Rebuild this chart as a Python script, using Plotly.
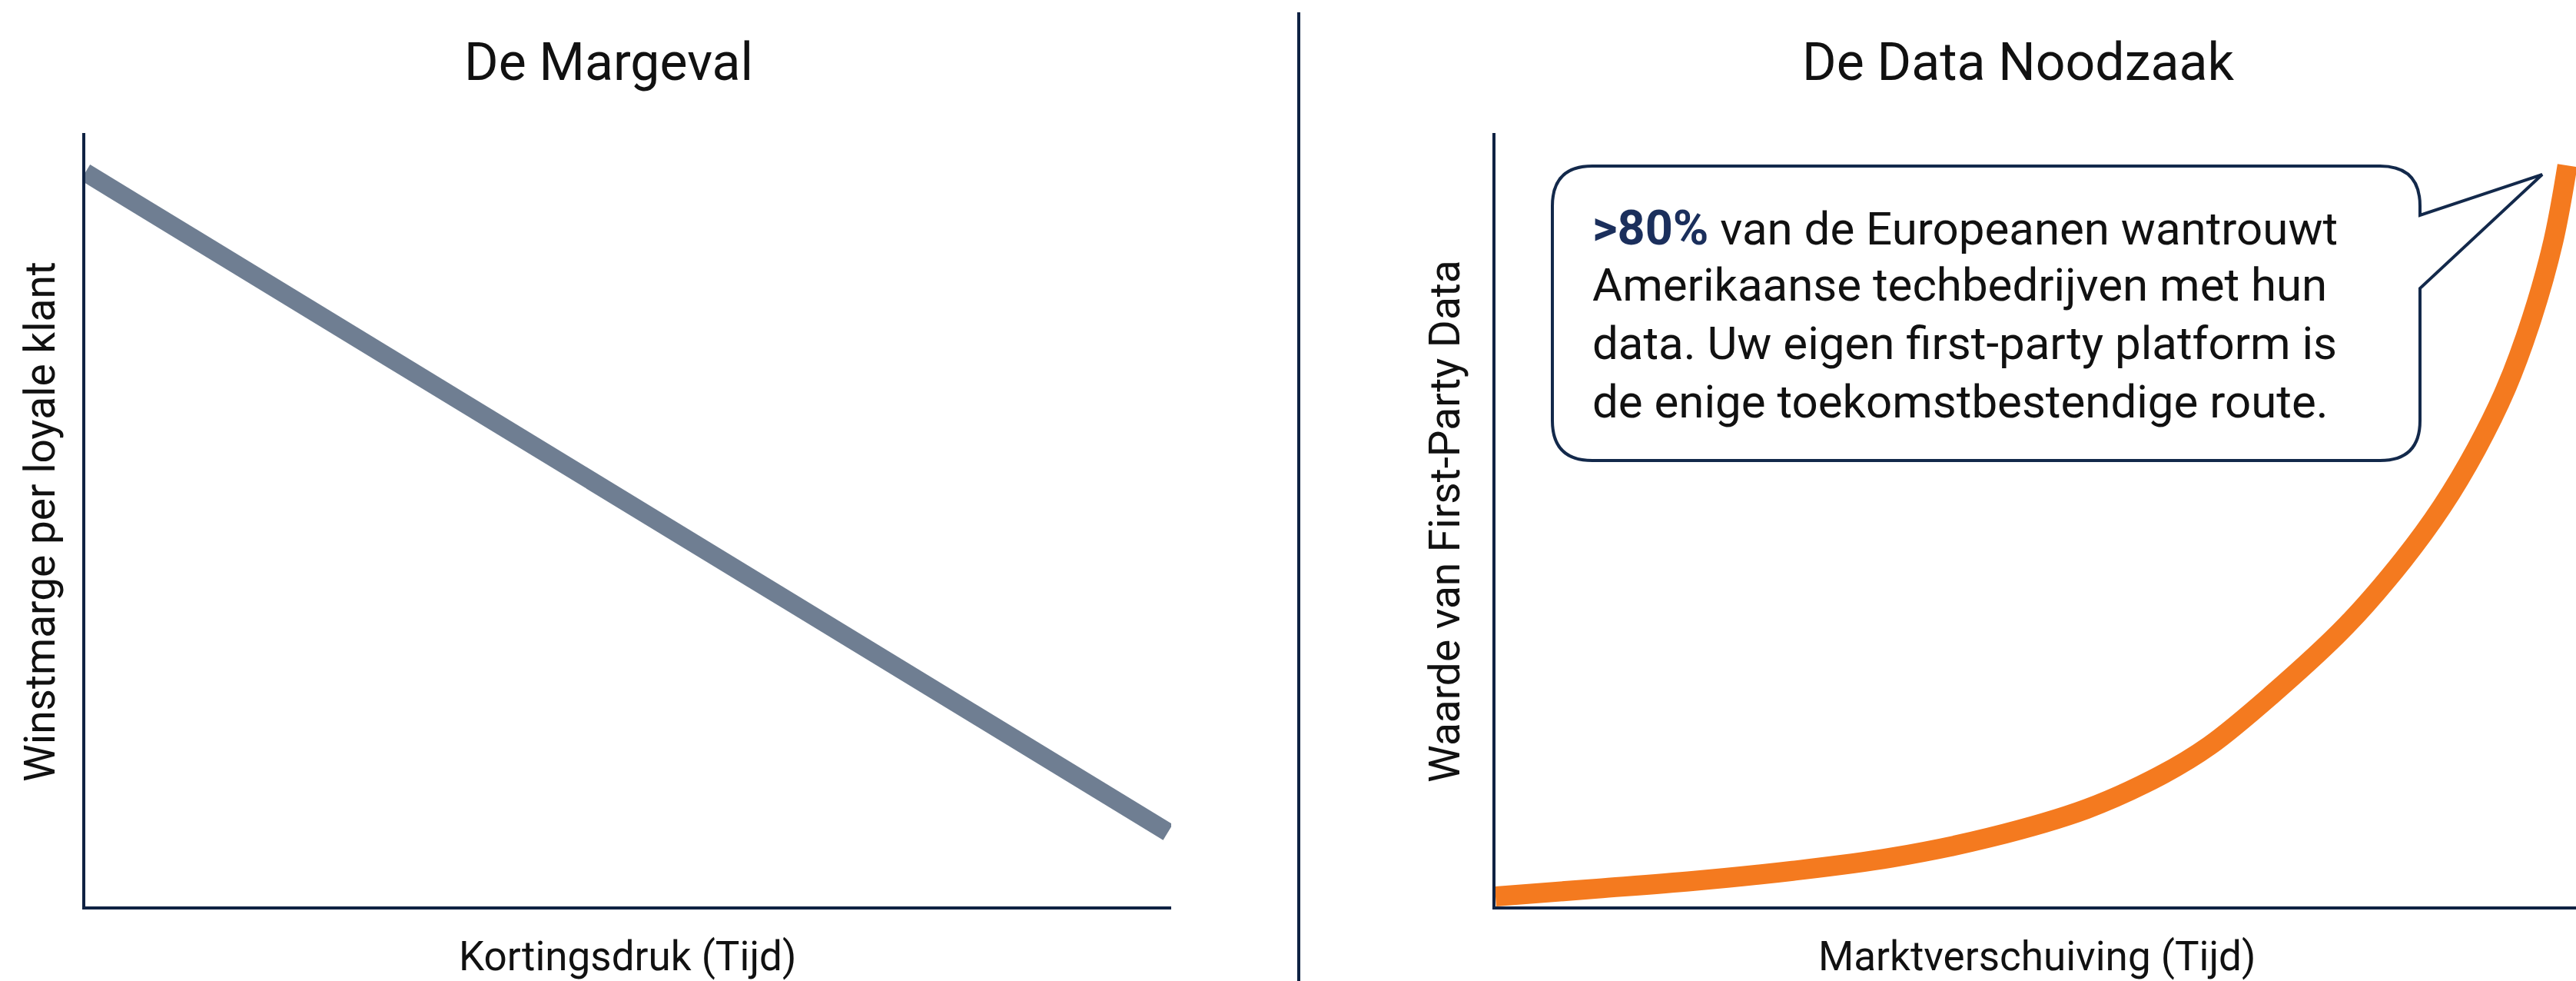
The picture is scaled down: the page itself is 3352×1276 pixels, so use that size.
import plotly.graph_objects as go

W, H = 3352, 1276

# ---- data ----
korting_x = [0, 99.7]              # Kortingsdruk (Tijd)
marge_y = [94.9, 9.6]              # Winstmarge per loyale klant

markt_x = [0, 9.4, 18.4, 27.5, 36.6, 45.7, 54.7, 61.5, 66.1, 71.7, 78.8, 84.0, 87.6, 90.8, 93.5, 95.9, 97.9, 99.2]
data_y = [1.3, 2.3, 3.3, 4.6, 6.3, 8.9, 12.6, 16.9, 20.8, 27.2, 36.4, 44.8, 51.7, 59.2, 66.9, 76.0, 86.0, 95.8]

titles = ["De Margeval", "De Data Noodzaak"]
x_titles = ["Kortingsdruk (Tijd)", "Marktverschuiving (Tijd)"]
y_titles = ["Winstmarge per loyale klant", "Waarde van First-Party Data"]
callout_lines = [
    "<b style='color:#1b2f5c;font-size:63px'>&gt;80%</b> van de Europeanen wantrouwt",
    "Amerikaanse techbedrijven met hun",
    "data. Uw eigen first-party platform is",
    "de enige toekomstbestendige route.",
]

NAVY = "#0f2243"
FONT = "Roboto"


def px(x):
    return x / W


def py(y):
    return 1 - y / H


fig = go.Figure()
fig.add_trace(go.Scatter(x=korting_x, y=marge_y, mode="lines",
                         line=dict(color="#6f7e92", width=24),
                         xaxis="x", yaxis="y", showlegend=False, hoverinfo="skip"))
fig.add_trace(go.Scatter(x=markt_x, y=data_y, mode="lines",
                         line=dict(color="#f47a1f", width=26, shape="spline", smoothing=1.0),
                         xaxis="x2", yaxis="y2", showlegend=False, hoverinfo="skip"))

ax_common = dict(showgrid=False, zeroline=False, showticklabels=False, ticks="",
                 showline=True, linecolor=NAVY, linewidth=4, fixedrange=True)

top, bottom = 173, 1179
fig.update_layout(
    width=W, height=H, autosize=False,
    margin=dict(l=0, r=0, t=0, b=0, pad=0),
    paper_bgcolor="white", plot_bgcolor="white",
    font=dict(family=FONT, color="#111111"),
    xaxis=dict(domain=[px(111), px(1524)], range=[0, 100], **ax_common),
    yaxis=dict(domain=[py(bottom), py(top)], range=[0, 100], **ax_common),
    xaxis2=dict(domain=[px(1946), 1.0], range=[0, 100], anchor="y2", **ax_common),
    yaxis2=dict(domain=[py(bottom), py(top)], range=[0, 100], anchor="x2", **ax_common),
)

# separator
fig.add_shape(type="line", xref="paper", yref="paper",
              x0=px(1690), x1=px(1690), y0=py(16), y1=0,
              line=dict(color=NAVY, width=4))

# callout bubble
L, R, T, B, r = 2020, 3149, 216, 599, 52
tip = (3308, 227)
pts = [
    f"M {px(L + r)},{py(T)}",
    f"L {px(R - r)},{py(T)}",
    f"Q {px(R)},{py(T)} {px(R)},{py(T + r)}",
    f"L {px(R)},{py(280)}",
    f"L {px(tip[0])},{py(tip[1])}",
    f"L {px(R)},{py(375)}",
    f"L {px(R)},{py(B - r)}",
    f"Q {px(R)},{py(B)} {px(R - r)},{py(B)}",
    f"L {px(L + r)},{py(B)}",
    f"Q {px(L)},{py(B)} {px(L)},{py(B - r)}",
    f"L {px(L)},{py(T + r)}",
    f"Q {px(L)},{py(T)} {px(L + r)},{py(T)}",
    "Z",
]
fig.add_shape(type="path", xref="paper", yref="paper", path=" ".join(pts),
              fillcolor="white", line=dict(color="#13294b", width=4), layer="above")

ann = []
ann.append(dict(text=titles[0], x=px(792), y=py(81), font=dict(size=68)))
ann.append(dict(text=titles[1], x=px(2626), y=py(81), font=dict(size=68)))
ann.append(dict(text=x_titles[0], x=px(816), y=py(1244), font=dict(size=53)))
ann.append(dict(text=x_titles[1], x=px(2650), y=py(1244), font=dict(size=53)))
ann.append(dict(text=y_titles[0], x=px(52), y=py(679), textangle=-90, font=dict(size=55)))
ann.append(dict(text=y_titles[1], x=px(1880), y=py(678), textangle=-90, font=dict(size=55)))
for a in ann:
    a.update(xref="paper", yref="paper", showarrow=False, xanchor="center", yanchor="middle")

line_centers = [296, 370, 446, 522]
for txt, yc in zip(callout_lines, line_centers):
    ann.append(dict(text=txt, x=px(2070), y=py(yc), xref="paper", yref="paper",
                    showarrow=False, xanchor="left", yanchor="middle", align="left",
                    font=dict(size=60, color="#111111")))
fig.update_layout(annotations=ann)

fig.write_html("out.html")
